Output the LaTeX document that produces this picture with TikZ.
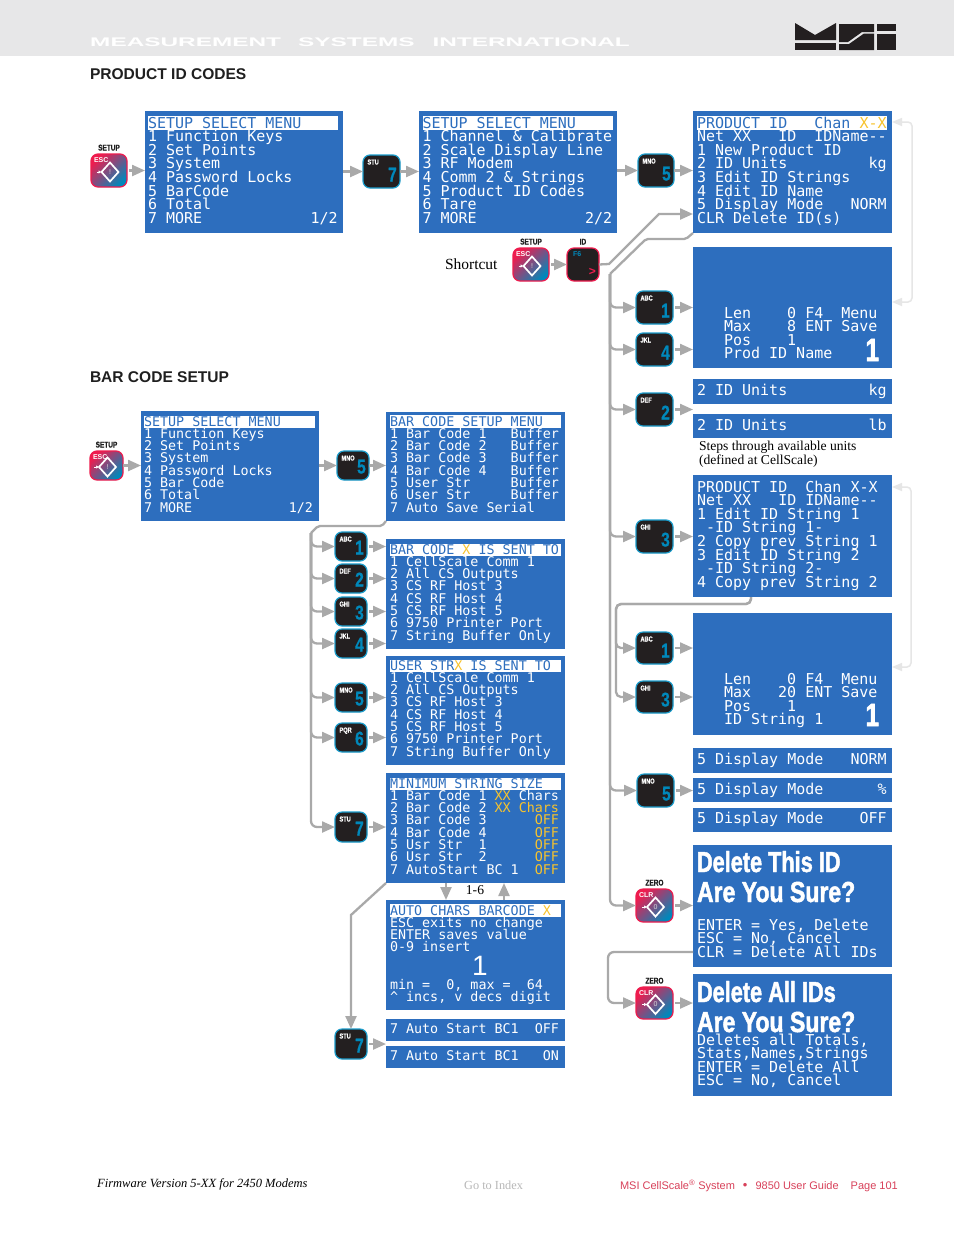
\documentclass[tikz,border=0pt]{standalone}
\usepackage{fontspec}
\usepackage{graphicx}
\usetikzlibrary{arrows.meta,calc,shapes.geometric}
\setmainfont{Liberation Serif}
\newfontfamily\lcd{DejaVu Sans Mono}
\newfontfamily\arial{Liberation Sans}
\newfontfamily\cond[FakeStretch=0.76,BoldFeatures={FakeBold=1.6}]{Liberation Sans}
\newfontfamily\keycond[FakeStretch=0.78,BoldFeatures={FakeBold=0.6}]{Liberation Sans}
\newfontfamily\hdr[FakeStretch=1.95]{Liberation Sans}
\definecolor{scrblue}{HTML}{2D6EBE}
\definecolor{yel}{HTML}{F8C32C}
\definecolor{arrgray}{HTML}{A9A9A9}
\definecolor{backgray}{HTML}{E6E6E6}
\definecolor{band}{HTML}{E7E7E8}
\definecolor{keydark}{HTML}{231F20}
\definecolor{keyblue}{HTML}{1A9CCB}
\definecolor{digblue}{HTML}{0088BB}
\definecolor{keyred}{HTML}{EE1C4E}
\definecolor{keymid}{HTML}{9A7F9E}
\definecolor{footred}{HTML}{D8415A}
\tikzset{
  scr/.style={fill=scrblue,inner sep=0pt,outer sep=0pt,anchor=north west},
  tbar/.style={fill=white,inner sep=0pt,outer sep=0pt,anchor=north west},
  big/.style={text=white,inner sep=0pt,outer sep=0pt,align=left,
    font={\lcd\fontsize{15}{13.6}\selectfont\lineskiplimit=-100pt\frenchspacing}},
  small/.style={text=white,inner sep=0pt,outer sep=0pt,align=left,
    font={\lcd\fontsize{13.37}{12.3}\selectfont\lineskiplimit=-100pt\frenchspacing}},
  shout/.style={text=white,inner sep=0pt,outer sep=0pt,align=left,
    font={\cond\bfseries\fontsize{29}{30}\selectfont\lineskiplimit=-100pt}},
  bigone/.style={text=white,inner sep=0pt,outer sep=0pt,font={\cond\bfseries\fontsize{32}{32}\selectfont}},
  thinone/.style={text=white,inner sep=0pt,outer sep=0pt,font={\arial\fontsize{28}{28}\selectfont}},
  serif/.style={inner sep=0pt,outer sep=0pt,align=left,anchor=base west,
    font={\fontsize{13.6}{14}\selectfont\lineskiplimit=-100pt}},
  head/.style={inner sep=0pt,outer sep=0pt,anchor=base west,text=black!88,
    font={\arial\bfseries\fontsize{15.55}{16}\selectfont}},
  arr/.style={draw=arrgray,line width=2.3pt,-{Triangle[length=13pt,width=11pt]}},
  conn/.style={draw=arrgray,line width=2.3pt},
  gap/.style={shorten <=2pt},
  back/.style={draw=backgray,line width=1.5pt,rounded corners=4pt,
    {Triangle[length=10pt,width=8pt]}-{Triangle[length=10pt,width=8pt]}},
  darkkey/.style={draw=keyblue,fill=keydark,line width=1.2pt,rounded corners=7pt,inner sep=0pt,outer sep=0pt},
  idkey/.style={draw=keyred,fill=keydark,line width=1.2pt,rounded corners=7pt,inner sep=0pt,outer sep=0pt},
  redkey/.style={draw=keyred,line width=1.2pt,rounded corners=7pt,inner sep=0pt,outer sep=0pt,
    top color=keyred,middle color=keymid,bottom color=digblue,shading angle=45},
  keylet/.style={text=white,inner sep=0pt,outer sep=0pt,font={\keycond\bfseries\fontsize{7.2}{8}\selectfont}},
  keydig/.style={text=digblue,inner sep=0pt,outer sep=0pt,font={\keycond\bfseries\fontsize{20}{20}\selectfont}},
  keytop/.style={text=black!88,inner sep=0pt,outer sep=0pt,font={\keycond\bfseries\fontsize{8.3}{9}\selectfont}},
  dia/.style={diamond,draw=white,line width=1.7pt,inner sep=0pt,outer sep=0pt,minimum width=17pt,minimum height=19pt,
    text=white!85!black,font={\arial\fontsize{7}{7}\selectfont}},
  keymini/.style={text=white,inner sep=0pt,outer sep=0pt,font={\arial\bfseries\fontsize{7}{7}\selectfont}},
}
% name x1 y1 x2 y2
\newcommand\scrbox[5]{\pgfmathsetmacro\ww{#4-#2}\pgfmathsetmacro\hh{#5-#3}%
  \node[scr,minimum width=\ww pt,minimum height=\hh pt] (#1) at (#2,#3) {};}
\newcommand\titlebar[5]{\pgfmathsetmacro\ww{#4-#2}\pgfmathsetmacro\hh{#5-#3}%
  \node[tbar,minimum width=\ww pt,minimum height=\hh pt] (#1) at (#2,#3) {};}
% name style x baseline text
\newcommand\scrtxt[5]{\pgfmathsetmacro\yy{#4-12}%
  \node[#2,anchor=north west] (#1) at (#3,\yy) {\rule{0pt}{12pt}#5};}
\newcommand\ttl[1]{\textcolor{scrblue}{#1}}
\newcommand\yl[1]{\textcolor{yel}{#1}}
% name x1 y1 x2 y2 letters digit
\newcommand\keyb[7]{\pgfmathsetmacro\ww{#4-#2}\pgfmathsetmacro\hh{#5-#3}%
  \pgfmathsetmacro\cx{(#2+#4)/2}\pgfmathsetmacro\cy{(#3+#5)/2}%
  \node[darkkey,minimum width=\ww pt,minimum height=\hh pt] (#1) at (\cx,\cy) {};
  \node[keylet,anchor=base west] (#1-l) at ($(#1.north west)+(4.5,9.5)$) {#6};
  \node[keydig,anchor=base east] (#1-d) at ($(#1.south east)+(-3.2,-6.5)$) {#7};}
% name x1 y1 x2 y2 top mini inner
\newcommand\keyr[8]{\pgfmathsetmacro\ww{#4-#2}\pgfmathsetmacro\hh{#5-#3}%
  \pgfmathsetmacro\cx{(#2+#4)/2}\pgfmathsetmacro\cy{(#3+#5)/2}%
  \node[redkey,minimum width=\ww pt,minimum height=\hh pt] (#1) at (\cx,\cy) {};
  \node[keytop,anchor=base] (#1-t) at ($(#1.north)+(0,-3.5)$) {#6};
  \node[keymini,anchor=base west] (#1-m) at ($(#1.north west)+(3,8.5)$) {#7};
  \node[dia] (#1-x) at ($(#1.center)+(1,1.5)$) {#8};
  \draw[white,line width=1pt,-{Latex[length=3pt,width=3.5pt]}] ($(#1-x.west)+(-5,0)$) -- (#1-x.west);}
\begin{document}
\begin{tikzpicture}[x=1pt,y=-1pt]
\useasboundingbox (0,0) rectangle (954,1235);
\fill[white] (0,0) rectangle (954,1235);
% header band
\fill[band] (0,0) rectangle (954,56);
\node[inner sep=0pt,anchor=base west,text=white,font={\hdr\bfseries\fontsize{12.5}{13}\selectfont}] (brand) at (90,46)
  {MEASUREMENT\hspace{17pt}SYSTEMS\hspace{18pt}INTERNATIONAL};
% logo
\fill[keydark] (795,23) -- (815,35) -- (836,23) -- (836,40) -- (795,40) -- cycle;
\fill[keydark] (795,43) rectangle (836,50);
\fill[keydark] (839,24) -- (874,24) -- (874,32) -- (862,32) -- (848,42) -- (839,42) -- cycle;
\fill[keydark] (839,44) -- (849,44) -- (864,33.5) -- (874,33.5) -- (874,50) -- (839,50) -- cycle;
\fill[keydark] (877,24) rectangle (896,31);
\fill[keydark] (877,33.5) rectangle (896,50);
% headings
\node[head] (h1) at (90,79.5) {PRODUCT ID CODES};
\node[head] (h2) at (90,382.5) {BAR CODE SETUP};
\node[serif] (shortcut) at (445,269) {\fontsize{15.5}{15.5}\selectfont Shortcut};

% ---------- screens, product id column
\scrbox{s1}{145}{111}{343}{233} \titlebar{s1b}{148}{116}{338}{130}
\scrtxt{s1t}{big}{148}{128}{\ttl{SETUP SELECT MENU}\\1 Function Keys\\2 Set Points\\3 System\\4 Password Locks\\5 BarCode\\6 Total\\7 MORE~~~~~~~~~~~~1/2}
\scrbox{s2}{419}{111}{617}{233} \titlebar{s2b}{423}{116}{613}{130}
\scrtxt{s2t}{big}{422.5}{128}{\ttl{SETUP SELECT MENU}\\1 Channel \& Calibrate\\2 Scale Display Line\\3 RF Modem\\4 Comm 2 \& Strings\\5 Product ID Codes\\6 Tare\\7 MORE~~~~~~~~~~~~2/2}
\scrbox{s3}{693}{111}{892}{233} \titlebar{s3b}{697}{116}{887}{130}
\scrtxt{s3t}{big}{697}{128}{\ttl{PRODUCT ID~~~Chan~}\yl{X-X}\\Net XX~~~ID~~IDName--\\1 New Product ID\\2 ID Units~~~~~~~~~kg\\3 Edit ID Strings\\4 Edit ID Name\\5 Display Mode~~~NORM\\CLR Delete ID(s)}
\scrbox{s4}{693}{247}{892}{368}
\scrtxt{s4t}{big}{724}{318}{Len~~~~0 F4~~Menu\\Max~~~~8 ENT Save\\Pos~~~~1\\Prod ID Name}
\node[bigone,anchor=base east] (s4n) at (879,361) {1};
\scrbox{s5}{693}{379}{892}{404}
\scrtxt{s5t}{big}{697}{395}{2 ID Units~~~~~~~~~kg}
\scrbox{s6}{693}{414}{892}{438}
\scrtxt{s6t}{big}{697}{430}{2 ID Units~~~~~~~~~lb}
\node[serif] (steps) at (699,464) {Steps through available units\\(defined at CellScale)};
\scrbox{s7}{693}{475}{892}{597}
\scrtxt{s7t}{big}{697}{492}{PRODUCT ID~~Chan X-X\\Net XX~~~ID IDName--\\1 Edit ID String 1\\\mbox{~}-ID String 1-\\2 Copy prev String 1\\3 Edit ID String 2\\\mbox{~}-ID String 2-\\4 Copy prev String 2}
\scrbox{s8}{693}{613}{892}{735}
\scrtxt{s8t}{big}{724}{684}{Len~~~~0 F4~~Menu\\Max~~~20 ENT Save\\Pos~~~~1\\ID String 1}
\node[bigone,anchor=base east] (s8n) at (879,726) {1};
\scrbox{s9}{693}{748}{892}{773}
\scrtxt{s9t}{big}{697}{764}{5 Display Mode~~~NORM}
\scrbox{s10}{693}{778}{892}{802}
\scrtxt{s10t}{big}{697}{794}{5 Display Mode~~~~~~\%}
\scrbox{s11}{693}{808}{892}{832}
\scrtxt{s11t}{big}{697}{823}{5 Display Mode~~~~OFF}
\scrbox{s12}{693}{845}{892}{967}
\node[shout,anchor=base west] (s12a) at (697,872) {\scalebox{.985}[1]{Delete This ID}};
\node[shout,anchor=base west] (s12b) at (697,902) {\scalebox{1.045}[1]{Are You Sure?}};
\scrtxt{s12t}{big}{697}{930}{ENTER = Yes, Delete\\ESC = No, Cancel\\CLR = Delete All IDs}
\scrbox{s13}{693}{974}{892}{1096}
\node[shout,anchor=base west] (s13a) at (697,1002) {\scalebox{.985}[1]{Delete All IDs}};
\node[shout,anchor=base west] (s13b) at (697,1032) {\scalebox{1.045}[1]{Are You Sure?}};
\scrtxt{s13t}{big}{697}{1045}{Deletes all Totals,\\Stats,Names,Strings\\ENTER = Delete All\\ESC = No, Cancel}

% ---------- screens, bar code column
\scrbox{b1}{141}{411}{319}{521} \titlebar{b1b}{144}{416}{315}{428}
\scrtxt{b1t}{small}{144}{426}{\ttl{SETUP SELECT MENU}\\1 Function Keys\\2 Set Points\\3 System\\4 Password Locks\\5 Bar Code\\6 Total\\7 MORE~~~~~~~~~~~~1/2}
\scrbox{b2}{386}{412}{565}{521} \titlebar{b2b}{390}{415}{561}{428}
\scrtxt{b2t}{small}{390}{426}{\ttl{BAR CODE SETUP MENU}\\1 Bar Code 1~~~Buffer\\2 Bar Code 2~~~Buffer\\3 Bar Code 3~~~Buffer\\4 Bar Code 4~~~Buffer\\5 User Str~~~~~Buffer\\6 User Str~~~~~Buffer\\7 Auto Save Serial}
\scrbox{b3}{386}{539}{565}{649} \titlebar{b3b}{390}{544}{561}{556}
\scrtxt{b3t}{small}{390}{554}{\ttl{BAR CODE~}\yl{X}\ttl{~IS SENT TO}\\1 CellScale Comm 1\\2 All CS Outputs\\3 CS RF Host 3\\4 CS RF Host 4\\5 CS RF Host 5\\6 9750 Printer Port\\7 String Buffer Only}
\scrbox{b4}{386}{656}{565}{765} \titlebar{b4b}{390}{660}{561}{672}
\scrtxt{b4t}{small}{390}{670}{\ttl{USER STR}\yl{X}\ttl{~IS SENT TO}\\1 CellScale Comm 1\\2 All CS Outputs\\3 CS RF Host 3\\4 CS RF Host 4\\5 CS RF Host 5\\6 9750 Printer Port\\7 String Buffer Only}
\scrbox{b5}{386}{773}{565}{883} \titlebar{b5b}{390}{778}{561}{790}
\scrtxt{b5t}{small}{390}{788}{\ttl{MINIMUM STRING SIZE}\\1 Bar Code 1 \yl{XX} Chars\\2 Bar Code 2 \yl{XX Chars}\\3 Bar Code 3~~~~~~\yl{OFF}\\4 Bar Code 4~~~~~~\yl{OFF}\\5 Usr Str~~1~~~~~~\yl{OFF}\\6 Usr Str~~2~~~~~~\yl{OFF}\\7 AutoStart BC 1~~\yl{OFF}}
\scrbox{b6}{386}{900}{565}{1010} \titlebar{b6b}{390}{904}{561}{917}
\scrtxt{b6t}{small}{390}{915}{\ttl{AUTO CHARS BARCODE~}\yl{X}\\ESC exits no change\\ENTER saves value\\0-9 insert}
\node[thinone,anchor=base] (b6n) at (480,975) {1};
\scrtxt{b6u}{small}{390}{989}{min =~~0, max =~~64\\\textasciicircum{} incs, v decs digit}
\scrbox{b7}{386}{1019}{565}{1041}
\scrtxt{b7t}{small}{390}{1033}{7 Auto Start BC1~~OFF}
\scrbox{b8}{386}{1046}{565}{1068}
\scrtxt{b8t}{small}{390}{1060}{7 Auto Start BC1~~~ON}
\node[serif,anchor=center] (range) at (475,890) {1-6};

% ---------- keys, top row
\keyr{ksetup}{91}{154}{127}{187}{SETUP}{ESC}{!}
\keyb{kstu}{363}{155}{400}{188}{STU}{7}
\keyb{kmno}{638}{154}{674}{187}{MNO}{5}
\keyr{ksc}{513}{248}{549}{281}{SETUP}{ESC}{!}
\node[idkey,minimum width=32pt,minimum height=33pt] (kid) at (583,264.5) {};
\node[keytop,anchor=base] (kid-t) at ($(kid.north)+(0,-3.5)$) {ID};
\node[keymini,anchor=base west,text=digblue] (kid-m) at ($(kid.north west)+(6,8.5)$) {F6};
\node[keymini,anchor=base east,text=keyred,font={\arial\bfseries\fontsize{12}{12}\selectfont}] (kid-g) at ($(kid.south east)+(-3,-6)$) {>};
% right column
\keyb{ka1}{636}{291}{673}{324}{ABC}{1}
\keyb{kj4}{636}{333}{673}{366}{JKL}{4}
\keyb{kd2}{636}{393}{673}{426}{DEF}{2}
\keyb{kg3}{636}{520}{673}{553}{GHI}{3}
\keyb{kb1}{636}{632}{673}{664}{ABC}{1}
\keyb{kh3}{636}{681}{673}{713}{GHI}{3}
\keyb{kn5}{637}{774}{674}{807}{MNO}{5}
\keyr{kz1}{636}{889}{673}{922}{ZERO}{CLR}{0}
\keyr{kz2}{636}{987}{673}{1019}{ZERO}{CLR}{0}
% bar code keys
\keyr{bsetup}{90}{451}{123}{480}{SETUP}{ESC}{!}
\keyb{bm5}{337}{451}{369}{480}{MNO}{5}
\keyb{ba1}{335}{532}{367}{561}{ABC}{1}
\keyb{bd2}{335}{564}{367}{593}{DEF}{2}
\keyb{bg3}{335}{597}{367}{626}{GHI}{3}
\keyb{bj4}{335}{629}{367}{658}{JKL}{4}
\keyb{bn5}{335}{683}{367}{712}{MNO}{5}
\keyb{bp6}{335}{723}{367}{752}{PQR}{6}
\keyb{bs7}{335}{812}{367}{842}{STU}{7}
\keyb{bs8}{335}{1029}{367}{1059}{STU}{7}

% ---------- connectors, top row
\draw[arr,gap] (ksetup.east) -- (ksetup.east -| s1.west);
\draw[arr] (s1.east |- kstu.west) -- (kstu.west);
\draw[arr] (kstu.east) -- (kstu.east -| s2.west);
\draw[arr] (s2.east |- kmno.west) -- (kmno.west);
\draw[arr] (kmno.east) -- (kmno.east -| s3.west);
\draw[arr,gap] (ksc.east) -- (kid.west);
% shortcut to product id
\coordinate (p1) at (609,264);
\coordinate (p2) at (659,214);
\draw[arr] (kid.east) -- (p1) -- (p2) -- (p2 -| s3.west);
% main trunk
\coordinate (q1) at (686,239);
\coordinate (q2) at (646,239);
\coordinate (tr) at (610,274);
\draw[conn,rounded corners=2pt] (s3.south west) -- (q1) -- (q2) -- (tr);
\foreach \kk in {ka1,kj4,kd2,kg3,kn5,kz1}
  \draw[arr,rounded corners=6pt] (tr) |- (\kk.west);
\foreach \kk/\ss in {ka1/s4,kj4/s4,kd2/s5,kg3/s7,kb1/s8,kh3/s8,kn5/s10,kz1/s12,kz2/s13}
  \draw[arr,gap] (\kk.east) -- (\kk.east -| \ss.west);
% strings trunk
\coordinate (r0) at (751,597);
\coordinate (r1) at (751,604);
\coordinate (r2) at (616,604);
\foreach \kk in {kb1,kh3}
  \draw[arr,rounded corners=5pt] (r0) -- (r1) -- (r2) |- (\kk.west);
% delete all loop
\coordinate (d0) at (693,952);
\coordinate (d1) at (608,952);
\draw[arr,rounded corners=6pt] (d0) -- (d1) |- (kz2.west);
% light return arrows
\coordinate (t1) at (912,122); \coordinate (t2) at (912,302);
\coordinate (t3) at (911,487); \coordinate (t4) at (911,667);
\draw[back] (s3.east |- t1) -- (t1) -- (t2) -- (s4.east |- t2);
\draw[back] (s7.east |- t3) -- (t3) -- (t4) -- (s8.east |- t4);

% ---------- connectors, bar code
\draw[arr] (bsetup.east) -- (bsetup.east -| b1.west);
\draw[arr] (b1.east |- bm5.west) -- (bm5.west);
\draw[arr] (bm5.east) -- (bm5.east -| b2.west);
\coordinate (u1) at (382,526);
\coordinate (u2) at (318,526);
\coordinate (tb) at (311,533);
\draw[conn,rounded corners=2pt] (b2.south west) -- (u1) -- (u2) -- (tb);
\foreach \kk in {ba1,bd2,bg3,bj4,bn5,bp6,bs7}
  \draw[arr,rounded corners=6pt] (tb) |- (\kk.west);
\foreach \kk/\ss in {ba1/b3,bd2/b3,bg3/b3,bj4/b3,bn5/b4,bp6/b4,bs7/b5}
  \draw[arr,gap] (\kk.east) -- (\kk.east -| \ss.west);
\coordinate (v1) at (351,915);
\draw[arr] (b5.south west) -- (v1) -- (bs8.north);
\draw[arr,gap] (bs8.east) -- (bs8.east -| b8.west);
\coordinate (w1) at (446,883);
\coordinate (w2) at (504,900);
\draw[arr] (b5.south -| w1) -- (b6.north -| w1);
\draw[arr] (b6.north -| w2) -- (b5.south -| w2);

% ---------- footer
\node[inner sep=0pt,anchor=base west,font={\itshape\fontsize{12.5}{13}\selectfont}] (fw) at (97,1187) {Firmware Version 5-XX for 2450 Modems};
\node[inner sep=0pt,anchor=base west,text=black!28,font={\fontsize{12.3}{13}\selectfont}] (idx) at (464,1189) {Go to Index};
\node[inner sep=0pt,anchor=base east,text=footred,font={\arial\fontsize{11}{12}\selectfont}] (guide) at (898,1189)
  {MSI CellScale\textsuperscript{®} System\hspace{8pt}{\fontsize{13}{13}\selectfont •}\hspace{8pt}9850 User Guide\hspace{12pt}Page 101};
\end{tikzpicture}
\end{document}
